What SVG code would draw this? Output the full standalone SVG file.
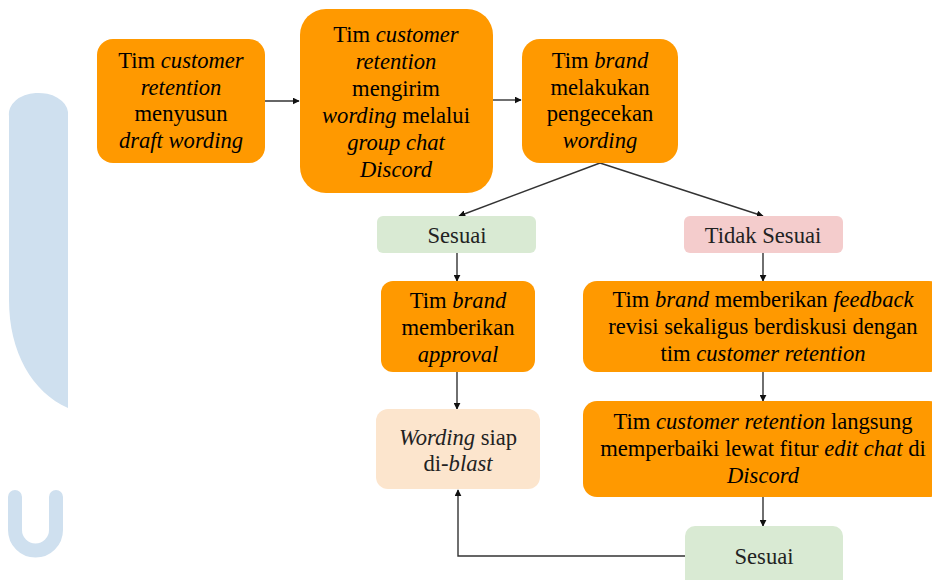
<svg xmlns="http://www.w3.org/2000/svg" width="932" height="580" viewBox="0 0 932 580">
<style>
.t{font-size:22.6px;fill:#000;text-anchor:middle}
.i{font-style:italic}
.o{fill:#ff9900}
.g{fill:#d9ead3}
.r{fill:#f4cccc}
.p{fill:#fce5cd}
.c{fill:none;stroke:#333;stroke-width:1.4}
.wm{fill:#cfe0ef}
</style>
<defs>
<marker id="a" viewBox="0 0 10 10" refX="9" refY="5" markerWidth="7" markerHeight="7" markerUnits="userSpaceOnUse" orient="auto"><path d="M0,0 L10,5 L0,10 Z" fill="#111"/></marker>
</defs>
<g id="watermark">
<path class="wm" d="M9,116 A29.5,21 0 0 1 68,112 L68,408 C32,392 9,352 9,300 Z"/>
<path d="M15,497 L15,530 A20.5,20.5 0 0 0 56,530 L56,497" fill="none" stroke="#cfe0ef" stroke-width="14" stroke-linecap="round"/>
</g>
<g id="connectors">
<line class="c" x1="265" y1="101" x2="299" y2="101" marker-end="url(#a)"/>
<line class="c" x1="493" y1="100" x2="521" y2="100" marker-end="url(#a)"/>
<line class="c" x1="600" y1="163" x2="459" y2="216" marker-end="url(#a)"/>
<line class="c" x1="600" y1="163" x2="763" y2="216" marker-end="url(#a)"/>
<line class="c" x1="457" y1="253" x2="457" y2="281" marker-end="url(#a)"/>
<line class="c" x1="457" y1="372" x2="457" y2="409" marker-end="url(#a)"/>
<line class="c" x1="763" y1="253" x2="763" y2="281" marker-end="url(#a)"/>
<line class="c" x1="763" y1="372" x2="763" y2="401" marker-end="url(#a)"/>
<line class="c" x1="763" y1="497" x2="763" y2="526" marker-end="url(#a)"/>
<path class="c" d="M685,556 L458,556 L458,490" marker-end="url(#a)"/>
</g>
<g font-family="Liberation Serif, Times New Roman, DejaVu Serif, serif">
<g id="n1">
<rect class="o" x="97" y="39" width="168" height="124" rx="16"/>
<text class="t" x="181" y="68">Tim <tspan class="i">customer</tspan></text>
<text class="t i" x="181" y="95">retention</text>
<text class="t" x="181" y="121">menyusun</text>
<text class="t i" x="181" y="148">draft wording</text>
</g>
<g id="n2">
<rect class="o" x="300" y="9" width="193" height="184" rx="26"/>
<text class="t" x="396" y="42">Tim <tspan class="i">customer</tspan></text>
<text class="t i" x="396" y="69">retention</text>
<text class="t" x="396" y="96">mengirim</text>
<text class="t" x="396" y="123"><tspan class="i">wording</tspan> melalui</text>
<text class="t i" x="396" y="150">group chat</text>
<text class="t i" x="396" y="177">Discord</text>
</g>
<g id="n3">
<rect class="o" x="522" y="39" width="156" height="124" rx="18"/>
<text class="t" x="600" y="68">Tim <tspan class="i">brand</tspan></text>
<text class="t" x="600" y="95">melakukan</text>
<text class="t" x="600" y="121">pengecekan</text>
<text class="t i" x="600" y="148">wording</text>
</g>
<g id="n4">
<rect class="g" x="377" y="216" width="159" height="37" rx="6"/>
<text class="t" x="457" y="243" style="fill:#222">Sesuai</text>
</g>
<g id="n5">
<rect class="r" x="684" y="216" width="159" height="37" rx="6"/>
<text class="t" x="763" y="243" style="fill:#222">Tidak Sesuai</text>
</g>
<g id="n6">
<rect class="o" x="381" y="281" width="154" height="91" rx="12"/>
<text class="t" x="458" y="308">Tim <tspan class="i">brand</tspan></text>
<text class="t" x="458" y="335">memberikan</text>
<text class="t i" x="458" y="362">approval</text>
</g>
<g id="n7">
<rect class="p" x="376" y="409" width="164" height="80" rx="12"/>
<text class="t" x="458" y="445" style="fill:#222"><tspan class="i">Wording</tspan> siap</text>
<text class="t" x="458" y="471" style="fill:#222">di-<tspan class="i">blast</tspan></text>
</g>
<g id="n8">
<rect class="o" x="583" y="281" width="360" height="91" rx="14"/>
<text class="t" x="763" y="307">Tim <tspan class="i">brand</tspan> memberikan <tspan class="i">feedback</tspan></text>
<text class="t" x="763" y="334">revisi sekaligus berdiskusi dengan</text>
<text class="t" x="763" y="361">tim <tspan class="i">customer retention</tspan></text>
</g>
<g id="n9">
<rect class="o" x="583" y="401" width="360" height="96" rx="14"/>
<text class="t" x="763" y="429">Tim <tspan class="i">customer retention</tspan> langsung</text>
<text class="t" x="763" y="456">memperbaiki lewat fitur <tspan class="i">edit chat</tspan> di</text>
<text class="t i" x="763" y="483">Discord</text>
</g>
<g id="n10">
<rect class="g" x="685" y="526" width="158" height="70" rx="10"/>
<text class="t" x="764" y="564" style="fill:#222">Sesuai</text>
</g>
</g>
</svg>
